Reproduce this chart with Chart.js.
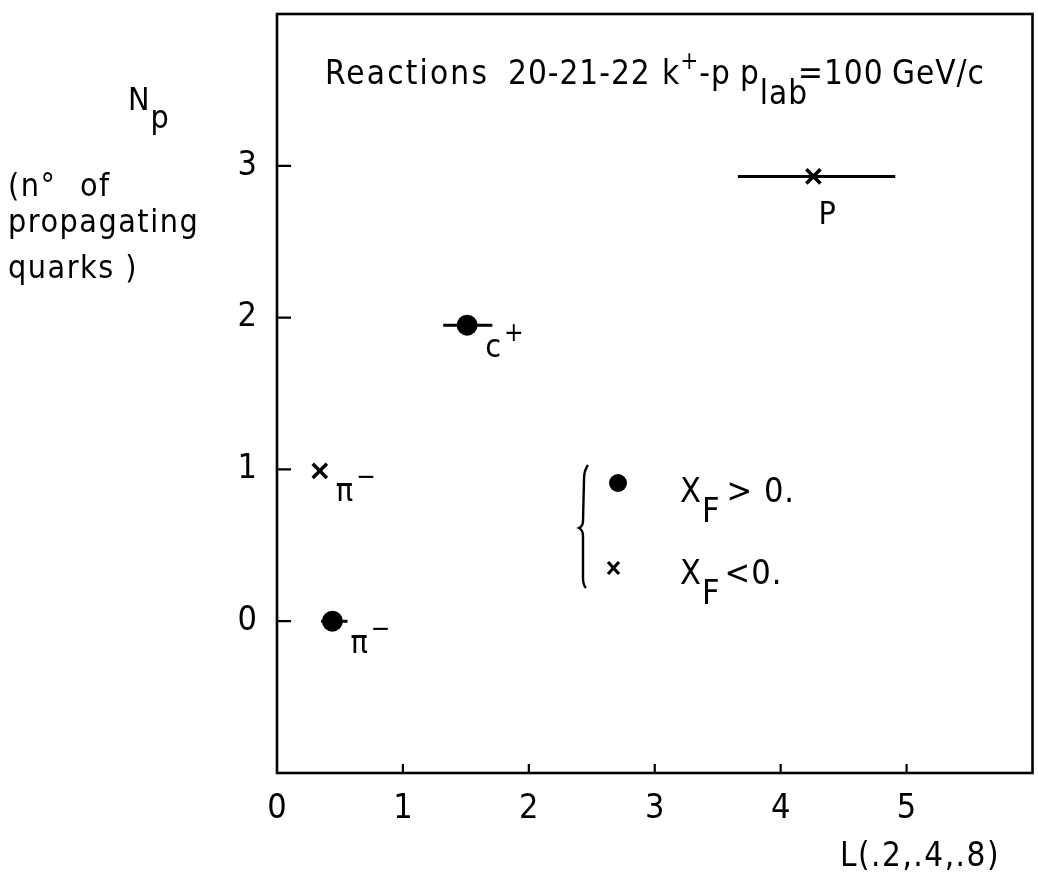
<!DOCTYPE html>
<html>
<head>
<meta charset="utf-8">
<script src="https://cdn.jsdelivr.net/npm/chart.js@4/dist/chart.umd.min.js"></script>
<style>
  html, body { margin: 0; padding: 0; background: #fff; overflow: hidden; }
  canvas { display: block; }
</style>
</head>
<body>
<canvas id="c" width="1046" height="874"></canvas>
<script>
// Particles produced with x_F > 0 (filled dots)
const fwdNames = ['π', 'c'];
const fwdSup   = ['−', '+'];
const fwdL     = [0.44, 1.51];
const fwdNp    = [0, 1.95];
const fwdLLow  = [0.35, 1.32];
const fwdLHigh = [0.56, 1.71];

// Particles produced with x_F < 0 (crosses)
const bwdNames = ['π', 'P'];
const bwdSup   = ['−', ''];
const bwdL     = [0.34, 4.26];
const bwdNp    = [0.99, 2.93];
const bwdLLow  = [null, 3.66];
const bwdLHigh = [null, 4.91];

// Axis tick labels
const xTickLabels = [0, 1, 2, 3, 4, 5];
const yTickLabels = [0, 1, 2, 3];

const FONT = '"DejaVu Sans Condensed", "Liberation Sans Narrow", "DejaVu Sans", sans-serif';

function toPoints(xs, ys) {
  return xs.map((x, i) => ({ x: x, y: ys[i] }));
}

// Draws a run of text pieces left to right; a piece may be raised or lowered,
// start at its own x position, or use its own letter spacing.
function drawRich(ctx, x, y, pieces, size, spacing) {
  let cx = x;
  ctx.save();
  ctx.fillStyle = '#000';
  ctx.textAlign = 'left';
  ctx.textBaseline = 'alphabetic';
  for (const p of pieces) {
    const s = p.size || size;
    ctx.font = s + 'px ' + FONT;
    ctx.letterSpacing = (p.sp !== undefined ? p.sp : (spacing || 0)) + 'px';
    if (p.x !== undefined) cx = p.x;
    ctx.fillText(p.t, cx, y + (p.dy || 0));
    cx += ctx.measureText(p.t).width + (p.gap || 0);
  }
  ctx.restore();
}

const decorations = {
  id: 'decorations',
  beforeDatasetsDraw(chart) {
    const ctx = chart.ctx;
    const xs = chart.scales.x, ys = chart.scales.y;
    const { left, right, top, bottom } = chart.chartArea;
    ctx.save();
    ctx.strokeStyle = '#000';
    ctx.lineCap = 'square';

    // frame
    ctx.lineWidth = 2.6;
    ctx.strokeRect(left, top, right - left, bottom - top);

    // inward tick marks
    ctx.lineWidth = 2.2;
    ctx.beginPath();
    for (const v of xTickLabels) {
      if (v === 0) continue;
      const px = xs.getPixelForValue(v);
      ctx.moveTo(px, bottom);
      ctx.lineTo(px, bottom - 8);
    }
    for (const v of yTickLabels) {
      const py = ys.getPixelForValue(v);
      ctx.moveTo(left, py);
      ctx.lineTo(left + 13, py);
    }
    ctx.stroke();

    // horizontal error bars
    ctx.lineWidth = 3;
    ctx.lineCap = 'butt';
    ctx.beginPath();
    const bars = [[fwdLLow, fwdLHigh, fwdNp], [bwdLLow, bwdLHigh, bwdNp]];
    for (const [lo, hi, yv] of bars) {
      lo.forEach((l, i) => {
        if (l === null) return;
        const py = ys.getPixelForValue(yv[i]);
        ctx.moveTo(xs.getPixelForValue(l), py);
        ctx.lineTo(xs.getPixelForValue(hi[i]), py);
      });
    }
    ctx.stroke();
    ctx.restore();
  },
  afterDraw(chart) {
    const ctx = chart.ctx;
    const xs = chart.scales.x, ys = chart.scales.y;

    // title line
    drawRich(ctx, 325, 84, [
      { t: 'Reactions', sp: 2.2 },
      { t: '20-21-22', x: 508 },
      { t: 'k', x: 662 },
      { t: '+', size: 24, dy: -15 },
      { t: '-p' },
      { t: 'p', x: 740 },
      { t: 'lab', dy: 20 },
      { t: '=100', x: 798 },
      { t: 'GeV/c', x: 892 }
    ], 33, 1);

    // vertical axis caption
    drawRich(ctx, 128, 110, [{ t: 'N' }, { t: 'p', dy: 18 }], 32, 1);
    drawRich(ctx, 8, 196, [{ t: '(n°' }, { t: 'of', x: 80 }], 32, 1.5);
    drawRich(ctx, 8, 232, [{ t: 'propagating' }], 32, 1.5);
    drawRich(ctx, 8, 278, [{ t: 'quarks )' }], 32, 1.5);

    // horizontal axis caption
    drawRich(ctx, 840, 866, [{ t: 'L(.2,.4,.8)' }], 33, 1.5);

    // particle names beside the markers
    fwdNames.forEach((n, i) => {
      const px = xs.getPixelForValue(fwdL[i]);
      const py = ys.getPixelForValue(fwdNp[i]);
      drawRich(ctx, px + 18, py + 32, [
        { t: n, gap: 3 },
        { t: fwdSup[i], size: 26, dy: -16 }
      ], 32, 0);
    });
    bwdNames.forEach((n, i) => {
      const px = xs.getPixelForValue(bwdL[i]);
      const py = ys.getPixelForValue(bwdNp[i]);
      const below = bwdSup[i] === '';
      drawRich(ctx, below ? px + 5 : px + 16, below ? py + 48 : py + 30, [
        { t: n, gap: 3 },
        { t: bwdSup[i], size: 26, dy: -16 }
      ], 32, 0);
    });

    // legend with bracket
    ctx.save();
    ctx.strokeStyle = '#000';
    ctx.fillStyle = '#000';
    ctx.lineWidth = 2.4;
    ctx.beginPath();
    ctx.moveTo(588, 465);
    ctx.quadraticCurveTo(584, 470, 584, 480);
    ctx.lineTo(583, 521);
    ctx.quadraticCurveTo(583, 526, 579, 528);
    ctx.quadraticCurveTo(583, 530, 583, 536);
    ctx.lineTo(583, 578);
    ctx.quadraticCurveTo(583, 585, 586, 588);
    ctx.stroke();
    ctx.beginPath();
    ctx.arc(618, 483, 9, 0, Math.PI * 2);
    ctx.fill();
    ctx.lineWidth = 3.2;
    ctx.beginPath();
    ctx.moveTo(608, 562); ctx.lineTo(619, 574);
    ctx.moveTo(619, 562); ctx.lineTo(608, 574);
    ctx.stroke();
    ctx.restore();

    drawRich(ctx, 680, 502, [
      { t: 'X' }, { t: 'F', dy: 20, gap: 6 }, { t: '> 0.' }
    ], 34, 1);
    drawRich(ctx, 680, 584, [
      { t: 'X' }, { t: 'F', dy: 20, gap: 4 }, { t: '<0.' }
    ], 34, 1);
  }
};

new Chart(document.getElementById('c'), {
  type: 'scatter',
  data: {
    datasets: [
      {
        label: 'X_F > 0',
        data: toPoints(fwdL, fwdNp),
        pointStyle: 'circle',
        pointRadius: 10.5,
        pointHoverRadius: 10.5,
        backgroundColor: '#000',
        borderColor: '#000',
        borderWidth: 0
      },
      {
        label: 'X_F < 0',
        data: toPoints(bwdL, bwdNp),
        pointStyle: 'crossRot',
        pointRadius: 10,
        pointHoverRadius: 10,
        backgroundColor: '#000',
        borderColor: '#000',
        borderWidth: 3.5
      }
    ]
  },
  options: {
    responsive: false,
    animation: false,
    devicePixelRatio: 1,
    layout: { padding: { top: 14, right: 0, left: 0, bottom: 0 } },
    plugins: {
      legend: { display: false },
      tooltip: { enabled: false },
      title: { display: false }
    },
    scales: {
      x: {
        type: 'linear',
        min: 0,
        max: 6,
        grid: { display: false, drawTicks: false },
        border: { display: false },
        ticks: {
          stepSize: 1,
          color: '#000',
          padding: 16,
          font: { family: FONT, size: 34 },
          maxRotation: 0,
          callback: v => (xTickLabels.includes(v) ? String(v) : '')
        },
        afterFit: s => { s.height = 101; s.paddingLeft = 0; s.paddingRight = 0; }
      },
      y: {
        type: 'linear',
        min: -1,
        max: 4,
        grid: { display: false, drawTicks: false },
        border: { display: false },
        ticks: {
          stepSize: 1,
          color: '#000',
          padding: 20,
          font: { family: FONT, size: 34 },
          callback: v => (yTickLabels.includes(v) ? String(v) : '')
        },
        afterFit: s => { s.width = 277; s.paddingTop = 0; s.paddingBottom = 0; }
      }
    }
  },
  plugins: [decorations]
});
</script>
</body>
</html>
